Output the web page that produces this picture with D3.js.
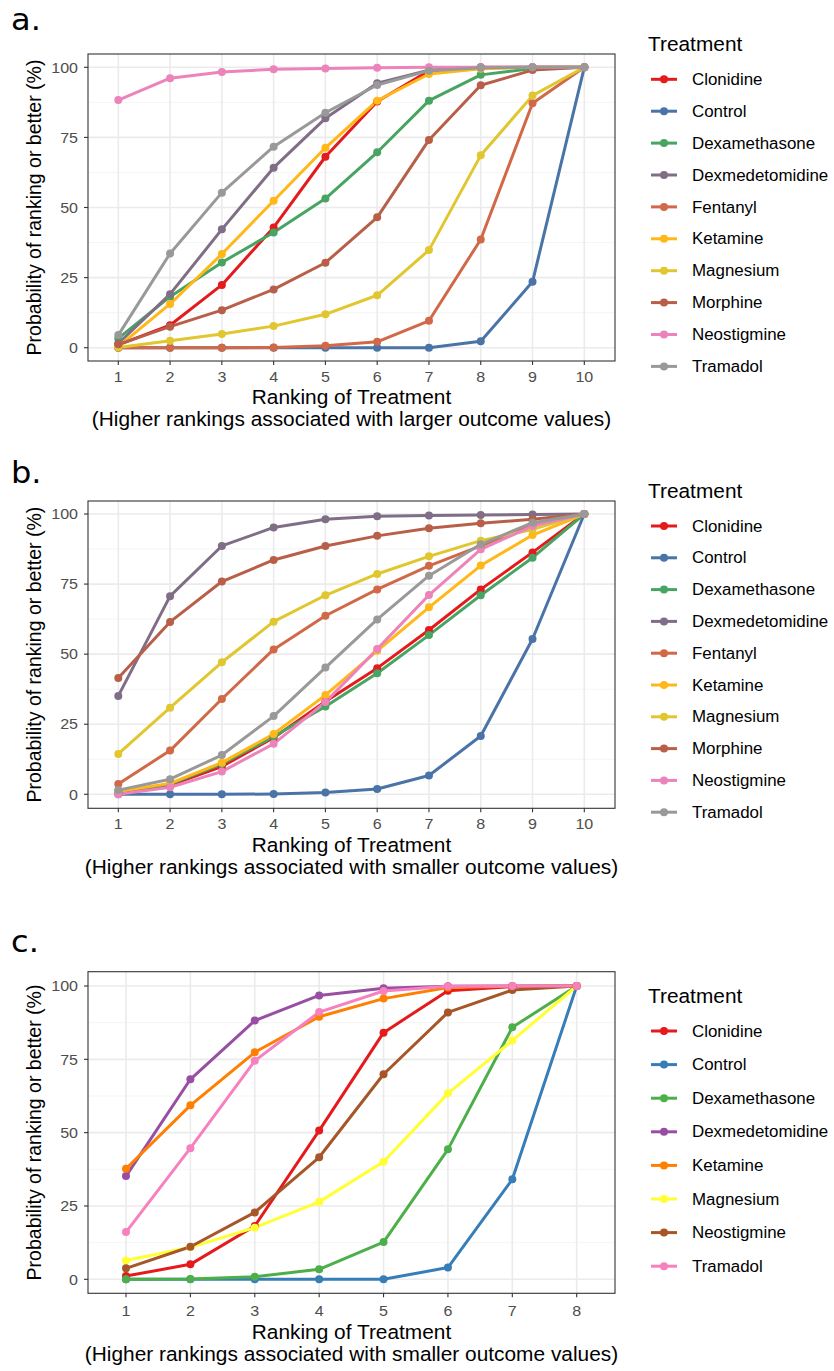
<!DOCTYPE html>
<html>
<head>
<meta charset="utf-8">
<script src="https://cdn.jsdelivr.net/npm/d3@7"></script>
<style>
  body { margin: 0; background: #fff; }
  text { font-family: "Liberation Sans", Arial, sans-serif; }
</style>
</head>
<body>
<script>
// ranks on the x axis
var ranksA = [1, 2, 3, 4, 5, 6, 7, 8, 9, 10];
var ranksC = [1, 2, 3, 4, 5, 6, 7, 8];

var treatmentsA = ["Clonidine", "Control", "Dexamethasone", "Dexmedetomidine", "Fentanyl",
                   "Ketamine", "Magnesium", "Morphine", "Neostigmine", "Tramadol"];
var treatmentsC = ["Clonidine", "Control", "Dexamethasone", "Dexmedetomidine",
                   "Ketamine", "Magnesium", "Neostigmine", "Tramadol"];

// Set1 ramped to 10 colours (a, b) and plain Set1 (c)
var colorsA = ["#E41A1C", "#4A73A7", "#48A462", "#7F6E85", "#D16948",
               "#FFB817", "#E1C72F", "#B85F49", "#EC83BB", "#999999"];
var colorsC = ["#E41A1C", "#377EB8", "#4DAF4A", "#984EA3",
               "#FF7F00", "#FFFF33", "#A65628", "#F781BF"];

// cumulative ranking probabilities (%), one row per treatment
var valuesA = [
  [1.0, 8.0, 22.4, 42.9, 68.1, 87.8, 98.8, 100, 100, 100],
  [0, 0, 0, 0, 0, 0, 0, 2.3, 23.5, 100],
  [3.3, 18.2, 30.4, 41.1, 53.2, 69.7, 88.1, 97.3, 99.6, 100],
  [1.5, 19.1, 42.2, 64.2, 81.8, 94.3, 99.0, 99.9, 100, 100],
  [0, 0, 0, 0.1, 0.7, 2.1, 9.6, 38.6, 87.2, 100],
  [0.4, 15.6, 33.4, 52.4, 71.3, 88.1, 97.6, 99.5, 100, 100],
  [0.1, 2.5, 4.9, 7.7, 11.9, 18.7, 34.8, 68.6, 89.9, 100],
  [1.2, 7.5, 13.4, 20.8, 30.3, 46.5, 74.1, 93.6, 99.0, 100],
  [88.3, 96.1, 98.3, 99.3, 99.6, 99.8, 100, 100, 100, 100],
  [4.5, 33.6, 55.3, 71.7, 83.8, 93.7, 98.8, 99.8, 100, 100]
];

var valuesB = [
  [0.7, 3.3, 9.9, 20.2, 33.1, 45.0, 58.6, 73.1, 86.3, 100],
  [0, 0, 0, 0.1, 0.6, 1.9, 6.7, 20.8, 55.4, 100],
  [1.0, 3.6, 10.8, 20.6, 31.3, 43.2, 56.8, 71.0, 84.4, 100],
  [35.1, 70.7, 88.6, 95.2, 98.1, 99.2, 99.5, 99.6, 99.8, 100],
  [3.7, 15.6, 34.0, 51.7, 63.7, 73.1, 81.5, 88.6, 96.0, 100],
  [1.0, 3.9, 11.3, 21.5, 35.4, 51.2, 66.7, 81.6, 92.5, 100],
  [14.4, 30.9, 47.1, 61.6, 71.0, 78.6, 84.9, 90.5, 94.5, 100],
  [41.5, 61.5, 75.9, 83.6, 88.6, 92.2, 94.9, 96.7, 98.1, 100],
  [0, 2.5, 8.1, 18.0, 32.9, 51.8, 71.1, 87.4, 95.7, 100],
  [1.5, 5.4, 14.0, 27.9, 45.2, 62.4, 78.0, 89.2, 96.9, 100]
];

var valuesC = [
  [1.1, 5.1, 18.2, 50.7, 84.1, 98.4, 99.8, 100],
  [0, 0, 0, 0, 0, 4.0, 34.1, 100],
  [0, 0.1, 0.9, 3.4, 12.7, 44.3, 85.9, 100],
  [35.2, 68.2, 88.2, 96.8, 99.2, 99.9, 100, 100],
  [37.7, 59.3, 77.4, 89.5, 95.7, 99.5, 99.9, 100],
  [6.4, 10.9, 17.6, 26.4, 40.1, 63.4, 81.4, 100],
  [3.75, 11.1, 22.8, 41.6, 69.9, 91.0, 98.6, 100],
  [16.1, 44.7, 74.5, 91.1, 98.3, 99.9, 100, 100]
];

var yTicks = [0, 25, 50, 75, 100];
var yMinor = [12.5, 37.5, 62.5, 87.5];

var SX = 1.07; // source picture is a bit wider than tall

var W = 834, H = 1371;
var svg = d3.select("body").append("svg")
    .attr("width", W)
    .attr("height", H);

function txt(g, x, y, s, size, opts) {
    opts = opts || {};
    var t = g.append("text")
        .attr("transform", "translate(" + x + "," + y + ") scale(" + SX + ",1)" + (opts.rotate ? " rotate(" + opts.rotate + ")" : ""))
        .attr("font-size", size)
        .attr("fill", opts.fill || "#000")
        .attr("text-anchor", opts.anchor || "start")
        .text(s);
    if (opts.family) t.style("font-family", opts.family);
    return t;
}

var panels = [
  {label: "a.", labelY: 30, top: 54, bottom: 361, y100: 67.3, y0: 347.7, xr: [118.3, 584.3],
   ranks: ranksA, names: treatmentsA, values: valuesA, colors: colorsA,
   sub: "(Higher rankings associated with larger outcome values)",
   tickY: 382, t1: 404, t2: 426, legTitle: 51, leg0: 79.3, legStep: 31.9},
  {label: "b.", labelY: 483, top: 501, bottom: 808.3, y100: 514, y0: 794.3, xr: [118.3, 584.3],
   ranks: ranksA, names: treatmentsA, values: valuesB, colors: colorsA,
   sub: "(Higher rankings associated with smaller outcome values)",
   tickY: 829, t1: 852, t2: 874, legTitle: 498, leg0: 526, legStep: 31.8},
  {label: "c.", labelY: 952, top: 971.7, bottom: 1293.3, y100: 986, y0: 1279.3, xr: [126, 576.7],
   ranks: ranksC, names: treatmentsC, values: valuesC, colors: colorsC,
   sub: "(Higher rankings associated with smaller outcome values)",
   tickY: 1316, t1: 1339, t2: 1361, legTitle: 1003, leg0: 1031, legStep: 33.6}
];

var left = 88, right = 615;

panels.forEach(function(p) {
    var g = svg.append("g");
    var x = d3.scaleLinear().domain([1, p.ranks.length]).range(p.xr);
    var y = d3.scaleLinear().domain([0, 100]).range([p.y0, p.y100]);

    // panel label
    txt(g, 11, p.labelY, p.label, 30, {family: "'DejaVu Sans', sans-serif"});

    // grid
    g.selectAll(".minor").data(yMinor).enter().append("line")
        .attr("x1", left).attr("x2", right)
        .attr("y1", d => y(d)).attr("y2", d => y(d))
        .attr("stroke", "#F2F2F2").attr("stroke-width", 0.8);
    g.selectAll(".gy").data(yTicks).enter().append("line")
        .attr("x1", left).attr("x2", right)
        .attr("y1", d => y(d)).attr("y2", d => y(d))
        .attr("stroke", "#EBEBEB").attr("stroke-width", 1.6);
    g.selectAll(".gx").data(p.ranks).enter().append("line")
        .attr("x1", d => x(d)).attr("x2", d => x(d))
        .attr("y1", p.top).attr("y2", p.bottom)
        .attr("stroke", "#EBEBEB").attr("stroke-width", 1.6);

    // series
    var line = d3.line().x((d, i) => x(p.ranks[i])).y(d => y(d));
    p.values.forEach(function(vals, k) {
        g.append("path")
            .attr("d", line(vals))
            .attr("fill", "none")
            .attr("stroke", p.colors[k])
            .attr("stroke-width", 3)
            .attr("stroke-linejoin", "round");
    });
    p.values.forEach(function(vals, k) {
        g.selectAll(null).data(vals).enter().append("circle")
            .attr("cx", (d, i) => x(p.ranks[i]))
            .attr("cy", d => y(d))
            .attr("r", 4)
            .attr("fill", p.colors[k]);
    });

    // border
    g.append("rect")
        .attr("x", left).attr("y", p.top)
        .attr("width", right - left).attr("height", p.bottom - p.top)
        .attr("fill", "none").attr("stroke", "#333333").attr("stroke-width", 1.1);

    // ticks + labels
    yTicks.forEach(function(t) {
        g.append("line").attr("x1", left - 4).attr("x2", left)
            .attr("y1", y(t)).attr("y2", y(t)).attr("stroke", "#333").attr("stroke-width", 1.1);
        txt(g, 78, y(t) + 5.2, t, 15, {anchor: "end", fill: "#4D4D4D"});
    });
    p.ranks.forEach(function(r) {
        g.append("line").attr("x1", x(r)).attr("x2", x(r))
            .attr("y1", p.bottom).attr("y2", p.bottom + 4).attr("stroke", "#333").attr("stroke-width", 1.1);
        txt(g, x(r), p.tickY, r, 15, {anchor: "middle", fill: "#4D4D4D"});
    });

    // axis titles
    var cx = (left + right) / 2;
    txt(g, cx, p.t1, "Ranking of Treatment", 19.5, {anchor: "middle"});
    txt(g, cx, p.t2, p.sub, 19.5, {anchor: "middle"});
    txt(g, 41, (p.top + p.bottom) / 2, "Probability of ranking or better (%)", 19.5,
        {anchor: "middle", rotate: -90});

    // legend
    txt(g, 648, p.legTitle, "Treatment", 19.5);
    p.names.forEach(function(n, k) {
        var ly = p.leg0 + k * p.legStep;
        g.append("line").attr("x1", 651).attr("x2", 677)
            .attr("y1", ly).attr("y2", ly)
            .attr("stroke", p.colors[k]).attr("stroke-width", 3);
        g.append("circle").attr("cx", 664).attr("cy", ly).attr("r", 4).attr("fill", p.colors[k]);
        txt(g, 692, ly + 5.6, n, 15.8);
    });
});
</script>
</body>
</html>
